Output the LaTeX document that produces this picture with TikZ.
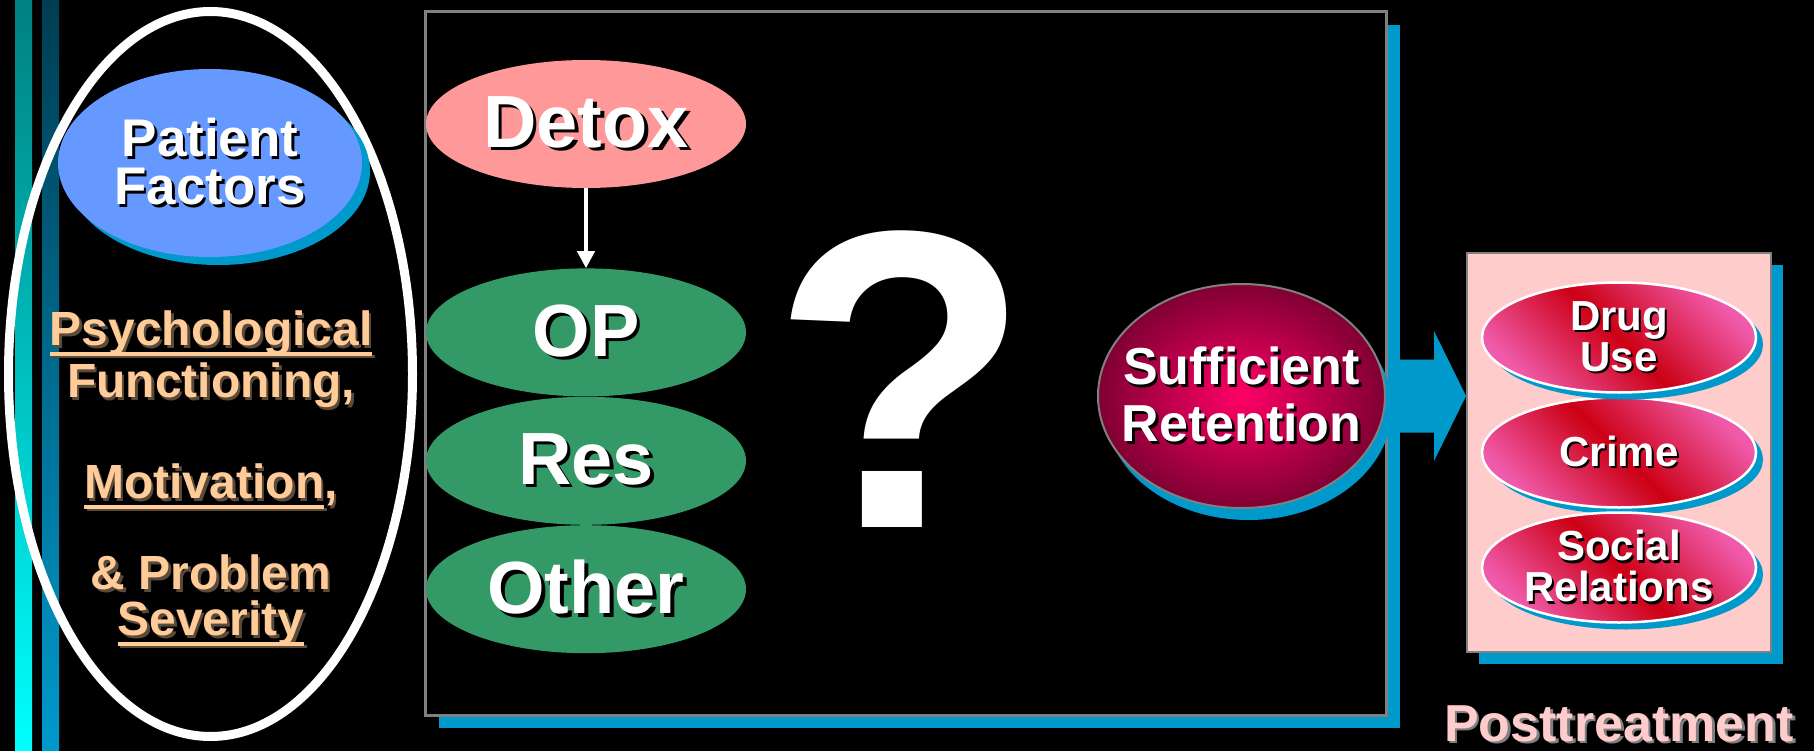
\documentclass[tikz,border=0pt]{standalone}
\usepackage{fontspec}
\setmainfont{Liberation Sans}
\usetikzlibrary{shapes.geometric, arrows,arrows.meta}
\usetikzlibrary{positioning, shadows, calc}

\definecolor{shadowblue}{HTML}{0099CC}
\definecolor{factorblue}{HTML}{6699FF}
\definecolor{detoxpink}{HTML}{FF9999}
\definecolor{modgreen}{HTML}{339966}
\definecolor{peach}{HTML}{FFCC99}
\definecolor{peachshade}{HTML}{5A4A3A}
\definecolor{postpink}{HTML}{FFCCCC}
\definecolor{retcore}{HTML}{FF0066}
\definecolor{retrim}{HTML}{800033}
\definecolor{outpink}{HTML}{F05AAA}
\definecolor{outred}{HTML}{CC0014}

\newcommand{\shd}[2][black]{\leavevmode\rlap{\hspace{.05em}\raisebox{-.05em}{\textcolor{#1}{#2}}}#2}
\newcommand{\uln}[1]{\leavevmode\setbox0\hbox{#1}\rlap{\raisebox{-.2em}{\rule{\wd0}{.065em}}}\box0}

\tikzstyle{arrow} = [line width=4pt,-{Triangle[width=17pt,length=17pt]},color=white]
\tikzstyle{factor} = [ellipse, minimum width=304pt, minimum height=188pt, inner sep=0pt, fill=factorblue, text=white, align=center, font=\bfseries\fontsize{53}{48}\selectfont, drop shadow={opacity=1, fill=shadowblue, shadow xshift=8pt, shadow yshift=-8pt}]
\tikzstyle{factortext} = [inner sep=0pt, text=peach, align=center, font=\bfseries\fontsize{48}{50}\selectfont]
\tikzstyle{modality} = [ellipse, minimum width=320pt, minimum height=128pt, inner sep=0pt, text=white, font=\bfseries\fontsize{74}{80}\selectfont]
\tikzstyle{retention} = [ellipse, minimum width=287pt, minimum height=224pt, inner sep=0pt, draw=gray, line width=2pt, inner color=retcore, outer color=retrim, drop shadow={opacity=1, fill=shadowblue, shadow xshift=7pt, shadow yshift=-12pt}]
\tikzstyle{outcome} = [ellipse, minimum width=274pt, minimum height=110pt, inner sep=0pt, draw=white, line width=2.5pt, top color=outpink, bottom color=outpink, middle color=outred, shading angle=-45, text=white, align=center, font=\bfseries\fontsize{42}{41}\selectfont, drop shadow={opacity=1, fill=shadowblue, shadow xshift=7pt, shadow yshift=-7pt}]

\begin{document}
\begin{tikzpicture}[x=1pt,y=-1pt]
    \useasboundingbox (0,0) rectangle (1814,751);
    \fill[black] (0,0) rectangle (1814,751);

    % side stripes
    \shade[top color=teal, bottom color=cyan] (15,0) rectangle (32,751);
    \shade[top color=black!60!shadowblue, bottom color=shadowblue] (42,0) rectangle (59,751);

    % patient column
    \node (ring) [ellipse, draw=white, line width=9pt, minimum width=404pt, minimum height=725pt] at (210.5,374) {};
    \node (factors) [factor] at (210,163) {\shd{Patient}\\\shd{Factors}};
    \node (factorlist) [factortext, anchor=north] at (211,311) {\shd[peachshade]{\uln{Psychological}}\\[2pt]
        \shd[peachshade]{Functioning,}\\[51pt]
        \shd[peachshade]{\uln{Motivation},}\\[41pt]
        \shd[peachshade]{\& Problem}\\[-4pt]
        \shd[peachshade]{\uln{Severity}}};

    % treatment box
    \node (program) [rectangle, draw=gray, line width=3pt, fill=black, minimum width=961pt, minimum height=703pt, drop shadow={opacity=1, fill=shadowblue, shadow xshift=14pt, shadow yshift=-13pt}] at (905.5,363.5) {};

    \node (detox) [modality, fill=detoxpink] at (586,124) {\shd{Detox}};
    \node (op) [modality, fill=modgreen, below=80pt of detox] {\shd{OP}};
    \node (res) [modality, fill=modgreen, below=0pt of op] {\shd{Res}};
    \node (other) [modality, fill=modgreen, below=0pt of res] {\shd{Other}};

    \node (unknown) [inner sep=0pt, text=white, font=\bfseries\fontsize{425}{425}\selectfont] at (901,379) {?};

    \node (ret) [retention, label={[text=white, align=center, font=\bfseries\fontsize{52}{57}\selectfont]center:{\shd{Sufficient}\\\shd{Retention}}}] at (1241.5,396) {};

    % outcomes
    \node (post) [rectangle, draw=gray, line width=2pt, fill=postpink, minimum width=304pt, minimum height=399pt, drop shadow={opacity=1, fill=shadowblue, shadow xshift=12pt, shadow yshift=-12pt}] at (1619,452.5) {};
    \node (crime) [outcome] at (post) {\shd{Crime}};
    \node (drug) [outcome, above=2.5pt of crime] {\shd{Drug}\\\shd{Use}};
    \node (social) [outcome, below=2.5pt of crime] {\shd{Social}\\\shd{Relations}};

    \node (posttitle) [anchor=base, inner sep=0pt, text=postpink, font=\bfseries\fontsize{52}{52}\selectfont] at ([yshift=-88pt]post.south) {\shd[gray]{Posttreatment}};

    % arrows
    \draw [arrow] (detox) -- (op);

    \coordinate (tip) at (post.west |- ret);
    \fill[shadowblue] ([shift={(-67,-36.5)}]tip) -- ([shift={(-32,-36.5)}]tip) -- ([shift={(-32,-65)}]tip) -- (tip)
        -- ([shift={(-32,65)}]tip) -- ([shift={(-32,36.5)}]tip) -- ([shift={(-67,36.5)}]tip) -- cycle;
\end{tikzpicture}
\end{document}
